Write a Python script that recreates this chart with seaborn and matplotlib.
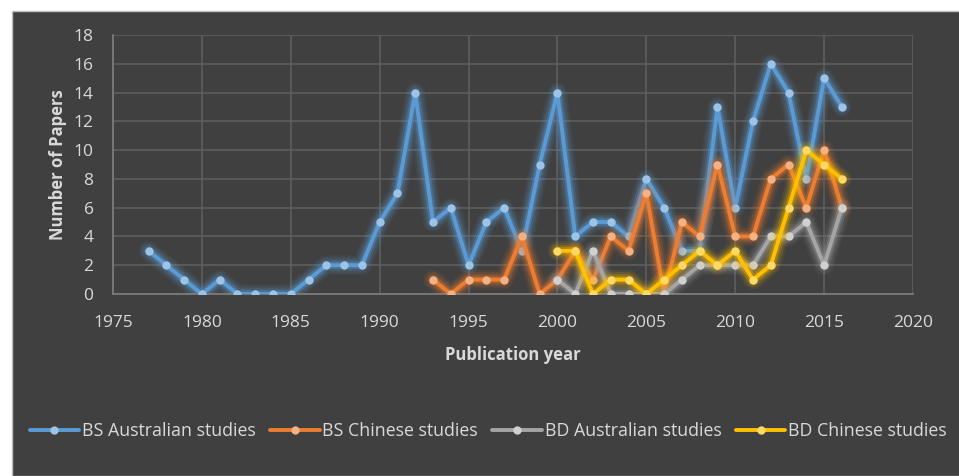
import numpy as np
import pandas as pd
import matplotlib
matplotlib.use('Agg')
import matplotlib.pyplot as plt
from matplotlib.patches import Rectangle
import seaborn as sns

# Data
years_bs_au = list(range(1977, 2017))
bs_au = [3, 2, 1, 0, 1, 0, 0, 0, 0, 1, 2, 2, 2, 5, 7, 14, 5, 6, 2, 5,
         6, 3, 9, 14, 4, 5, 5, 4, 8, 6, 3, 3, 13, 6, 12, 16, 14, 8, 15, 13]

years_bs_cn = list(range(1993, 2017))
bs_cn = [1, 0, 1, 1, 1, 4, 0, 1, 3, 1, 4, 3, 7, 0, 5, 4, 9, 4, 4, 8, 9, 6, 10, 6]

years_bd = list(range(2000, 2017))
bd_au = [1, 0, 3, 0, 0, 0, 0, 1, 2, 2, 2, 2, 4, 4, 5, 2, 6]
bd_cn = [3, 3, 0, 1, 1, 0, 1, 2, 3, 2, 3, 1, 2, 6, 10, 9, 8]

series_names = ['BS Australian studies', 'BS Chinese studies',
                'BD Australian studies', 'BD Chinese studies']
line_colors = ['#5B9BD5', '#ED7D31', '#A5A5A5', '#FFC000']
marker_colors = ['#9DC3E6', '#F4B183', '#D0D0D0', '#FFD966']

frames = [
    pd.DataFrame({'year': years_bs_au, 'papers': bs_au, 'series': series_names[0]}),
    pd.DataFrame({'year': years_bs_cn, 'papers': bs_cn, 'series': series_names[1]}),
    pd.DataFrame({'year': years_bd, 'papers': bd_au, 'series': series_names[2]}),
    pd.DataFrame({'year': years_bd, 'papers': bd_cn, 'series': series_names[3]}),
]
df = pd.concat(frames, ignore_index=True)

bg = '#404040'
text_col = '#D9D9D9'

sns.set_style('dark')
plt.rcParams['font.family'] = ['Open Sans', 'DejaVu Sans']

fig = plt.figure(figsize=(9.59, 4.76), dpi=100)
fig.patch.set_facecolor('white')
# dark chart area with a white strip left/top like the screenshot
fig.patches.append(Rectangle((12 / 959, 0), 1, 1 - 11 / 476, transform=fig.transFigure,
                             facecolor=bg, edgecolor='#BFBFBF', linewidth=1, zorder=-1))

ax = fig.add_axes([113 / 959, 1 - 294 / 476, 800 / 959, 259 / 476])
ax.set_facecolor(bg)

for i, name in enumerate(series_names):
    sub = df[df['series'] == name]
    # soft glow underneath each line
    for lw, a in [(14, 0.08), (11, 0.12), (8, 0.18), (5.5, 0.3)]:
        ax.plot(sub['year'], sub['papers'], color=line_colors[i], lw=lw, alpha=a,
                solid_capstyle='round', solid_joinstyle='round', zorder=2 + i)
    sns.lineplot(data=sub, x='year', y='papers', ax=ax, color=line_colors[i],
                 linewidth=2.8, marker='o', markersize=6,
                 markerfacecolor=marker_colors[i], markeredgewidth=0,
                 label=name, zorder=3 + i)

ax.set_xlim(1975, 2020)
ax.set_ylim(0, 18)
ax.set_xticks(np.arange(1975, 2021, 5))
ax.set_yticks(np.arange(0, 19, 2))
ax.grid(True, color='#5E5E5E', linewidth=1.2)
ax.tick_params(axis='both', length=0, colors=text_col, labelsize=12.5)
ax.tick_params(axis='x', pad=15)
ax.tick_params(axis='y', pad=14)
for side in ['top', 'right']:
    ax.spines[side].set_visible(False)
for side in ['left', 'bottom']:
    ax.spines[side].set_visible(True)
    ax.spines[side].set_color('#7F7F7F')
    ax.spines[side].set_linewidth(1.2)

ax.set_xlabel('Publication year', color=text_col, fontsize=12, fontweight='bold', labelpad=11)
ax.set_ylabel('Number of Papers', color=text_col, fontsize=12, fontweight='bold', labelpad=5)

handles, labels = ax.get_legend_handles_labels()
ax.get_legend().remove()
leg = fig.legend(handles, labels, loc='center', bbox_to_anchor=(0.509, 0.094), ncol=4,
                 frameon=False, fontsize=12.8, handlelength=2.8, columnspacing=0.8,
                 handletextpad=0.15, labelcolor=text_col)

fig.savefig('out.png', dpi=100, facecolor=fig.get_facecolor())
